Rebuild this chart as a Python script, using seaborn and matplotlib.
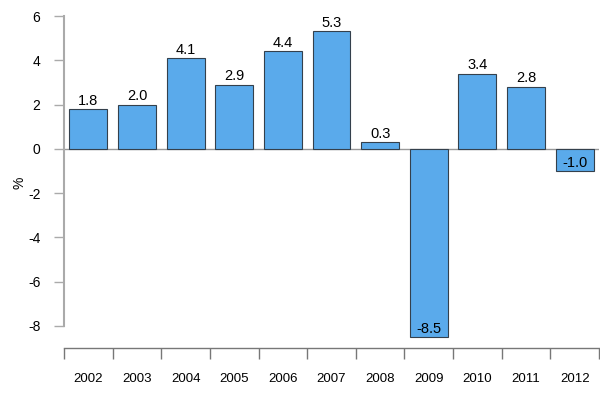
import pandas as pd
import matplotlib.pyplot as plt
import seaborn as sns

years = ["2002", "2003", "2004", "2005", "2006", "2007", "2008", "2009", "2010", "2011", "2012"]
growth = [1.8, 2.0, 4.1, 2.9, 4.4, 5.3, 0.3, -8.5, 3.4, 2.8, -1.0]

data = pd.DataFrame({"year": years, "growth": growth})

sns.set_style("white")
plt.rcParams['font.family'] = ['Liberation Sans', 'DejaVu Sans']
plt.rcParams['text.color'] = 'black'

fig = plt.figure(figsize=(6, 4), dpi=100)
ax = fig.add_axes([64 / 600, 52 / 400, 535 / 600, 332 / 400])

sns.barplot(x="year", y="growth", data=data, color="#5aaaeb", saturation=1,
            edgecolor="#34404c", linewidth=0.8, width=0.78, ax=ax)

ax.axhline(0, color="#999999", lw=1, zorder=0.5)

# labels sit just above the top of positive bars, just above the bottom of negative ones
for i, v in enumerate(growth):
    ax.annotate(f"{v:.1f}", (i, v), xytext=(0, 1), textcoords="offset points",
                ha="center", va="bottom", fontsize=10.5, color="black")

ax.set_xlim(-0.5, len(years) - 0.5)
ax.set_ylim(-9, 6)
ax.set_yticks(range(-8, 7, 2))
ax.set_yticklabels([str(t) for t in range(-8, 7, 2)], fontsize=10)
ax.tick_params(axis="y", length=7, color="#aaaaaa", width=1, pad=10, left=True,
               labelcolor="black")

ax.set_xticks([i + 0.5 for i in range(-1, len(years))])
ax.set_xticklabels([])
ax.set_xticks(range(len(years)), minor=True)
ax.set_xticklabels(years, minor=True, fontsize=9.5)
ax.tick_params(axis="x", which="major", length=8, color="#777777", width=1, bottom=True)
ax.tick_params(axis="x", which="minor", length=0, pad=18, labelcolor="black")

for s in ["top", "right"]:
    ax.spines[s].set_visible(False)
ax.spines["left"].set_bounds(-8, 6)
ax.spines["left"].set_color("#aaaaaa")
ax.spines["left"].set_linewidth(1.5)
ax.spines["bottom"].set_color("#777777")
ax.spines["bottom"].set_linewidth(1)

ax.set_xlabel("")
ax.set_ylabel("")
fig.text(20 / 600, 1 - 183 / 400, "%", rotation=90, ha="center", va="center",
         fontsize=10, color="black")

fig.savefig("out.png", dpi=100)
